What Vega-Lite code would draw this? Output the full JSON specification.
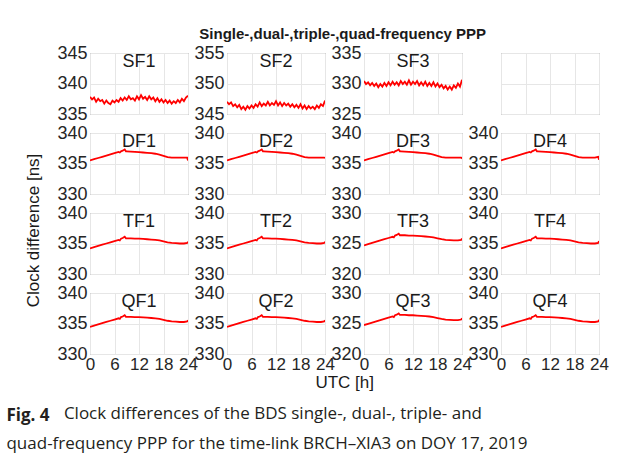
{
"$schema": "https://vega.github.io/schema/vega-lite/v6.json",
"background": "white",
"padding": {"left": 6, "top": 26, "right": 5, "bottom": 5},
"datasets": {"clk": [
{"p":"SF1","t":0,"v":337.8},{"p":"SF1","t":0.5,"v":337.4},{"p":"SF1","t":1,"v":337.7},{"p":"SF1","t":1.5,"v":337.0},{"p":"SF1","t":2,"v":337.5},{"p":"SF1","t":2.5,"v":337.1},{"p":"SF1","t":3,"v":337.3},{"p":"SF1","t":3.5,"v":336.7},{"p":"SF1","t":4,"v":337.2},{"p":"SF1","t":4.5,"v":336.8},{"p":"SF1","t":5,"v":336.6},{"p":"SF1","t":5.5,"v":337.2},{"p":"SF1","t":6,"v":336.9},{"p":"SF1","t":6.5,"v":337.3},{"p":"SF1","t":7,"v":337.0},{"p":"SF1","t":7.5,"v":337.6},{"p":"SF1","t":8,"v":337.2},{"p":"SF1","t":8.5,"v":337.7},{"p":"SF1","t":9,"v":337.3},{"p":"SF1","t":9.5,"v":337.9},{"p":"SF1","t":10,"v":337.4},{"p":"SF1","t":10.5,"v":337.6},{"p":"SF1","t":11,"v":337.2},{"p":"SF1","t":11.5,"v":337.9},{"p":"SF1","t":12,"v":337.4},{"p":"SF1","t":12.5,"v":338.1},{"p":"SF1","t":13,"v":337.5},{"p":"SF1","t":13.5,"v":337.8},{"p":"SF1","t":14,"v":337.3},{"p":"SF1","t":14.5,"v":337.9},{"p":"SF1","t":15,"v":337.4},{"p":"SF1","t":15.5,"v":337.7},{"p":"SF1","t":16,"v":337.1},{"p":"SF1","t":16.5,"v":337.6},{"p":"SF1","t":17,"v":337.0},{"p":"SF1","t":17.5,"v":337.4},{"p":"SF1","t":18,"v":336.9},{"p":"SF1","t":18.5,"v":337.3},{"p":"SF1","t":19,"v":336.8},{"p":"SF1","t":19.5,"v":337.2},{"p":"SF1","t":20,"v":336.7},{"p":"SF1","t":20.5,"v":337.1},{"p":"SF1","t":21,"v":336.8},{"p":"SF1","t":21.5,"v":337.3},{"p":"SF1","t":22,"v":336.9},{"p":"SF1","t":22.5,"v":337.5},{"p":"SF1","t":23,"v":337.1},{"p":"SF1","t":23.5,"v":337.7},{"p":"SF1","t":24,"v":338.0},
{"p":"SF2","t":0,"v":347.0},{"p":"SF2","t":0.5,"v":346.6},{"p":"SF2","t":1,"v":346.9},{"p":"SF2","t":1.5,"v":346.3},{"p":"SF2","t":2,"v":346.6},{"p":"SF2","t":2.5,"v":346.1},{"p":"SF2","t":3,"v":346.5},{"p":"SF2","t":3.5,"v":345.8},{"p":"SF2","t":4,"v":346.2},{"p":"SF2","t":4.5,"v":345.7},{"p":"SF2","t":5,"v":346.3},{"p":"SF2","t":5.5,"v":345.9},{"p":"SF2","t":6,"v":346.4},{"p":"SF2","t":6.5,"v":346.0},{"p":"SF2","t":7,"v":346.6},{"p":"SF2","t":7.5,"v":346.2},{"p":"SF2","t":8,"v":346.9},{"p":"SF2","t":8.5,"v":346.3},{"p":"SF2","t":9,"v":346.7},{"p":"SF2","t":9.5,"v":346.4},{"p":"SF2","t":10,"v":347.0},{"p":"SF2","t":10.5,"v":346.4},{"p":"SF2","t":11,"v":346.8},{"p":"SF2","t":11.5,"v":346.5},{"p":"SF2","t":12,"v":347.1},{"p":"SF2","t":12.5,"v":346.4},{"p":"SF2","t":13,"v":346.9},{"p":"SF2","t":13.5,"v":346.3},{"p":"SF2","t":14,"v":346.8},{"p":"SF2","t":14.5,"v":346.4},{"p":"SF2","t":15,"v":346.7},{"p":"SF2","t":15.5,"v":346.2},{"p":"SF2","t":16,"v":346.6},{"p":"SF2","t":16.5,"v":346.1},{"p":"SF2","t":17,"v":346.5},{"p":"SF2","t":17.5,"v":346.0},{"p":"SF2","t":18,"v":346.6},{"p":"SF2","t":18.5,"v":345.9},{"p":"SF2","t":19,"v":346.4},{"p":"SF2","t":19.5,"v":345.8},{"p":"SF2","t":20,"v":346.3},{"p":"SF2","t":20.5,"v":345.9},{"p":"SF2","t":21,"v":346.2},{"p":"SF2","t":21.5,"v":345.8},{"p":"SF2","t":22,"v":346.4},{"p":"SF2","t":22.5,"v":346.0},{"p":"SF2","t":23,"v":346.6},{"p":"SF2","t":23.5,"v":346.3},{"p":"SF2","t":24,"v":347.2},
{"p":"SF3","t":0,"v":330.4},{"p":"SF3","t":0.5,"v":329.9},{"p":"SF3","t":1,"v":330.2},{"p":"SF3","t":1.5,"v":329.7},{"p":"SF3","t":2,"v":330.1},{"p":"SF3","t":2.5,"v":329.6},{"p":"SF3","t":3,"v":330.0},{"p":"SF3","t":3.5,"v":329.4},{"p":"SF3","t":4,"v":329.9},{"p":"SF3","t":4.5,"v":329.5},{"p":"SF3","t":5,"v":330.1},{"p":"SF3","t":5.5,"v":329.6},{"p":"SF3","t":6,"v":330.2},{"p":"SF3","t":6.5,"v":329.7},{"p":"SF3","t":7,"v":330.3},{"p":"SF3","t":7.5,"v":329.8},{"p":"SF3","t":8,"v":330.2},{"p":"SF3","t":8.5,"v":329.7},{"p":"SF3","t":9,"v":330.4},{"p":"SF3","t":9.5,"v":329.9},{"p":"SF3","t":10,"v":330.3},{"p":"SF3","t":10.5,"v":329.8},{"p":"SF3","t":11,"v":330.5},{"p":"SF3","t":11.5,"v":329.8},{"p":"SF3","t":12,"v":330.3},{"p":"SF3","t":12.5,"v":329.9},{"p":"SF3","t":13,"v":330.4},{"p":"SF3","t":13.5,"v":329.7},{"p":"SF3","t":14,"v":330.2},{"p":"SF3","t":14.5,"v":329.7},{"p":"SF3","t":15,"v":330.3},{"p":"SF3","t":15.5,"v":329.6},{"p":"SF3","t":16,"v":330.1},{"p":"SF3","t":16.5,"v":329.6},{"p":"SF3","t":17,"v":330.2},{"p":"SF3","t":17.5,"v":329.5},{"p":"SF3","t":18,"v":330.0},{"p":"SF3","t":18.5,"v":329.4},{"p":"SF3","t":19,"v":329.8},{"p":"SF3","t":19.5,"v":329.2},{"p":"SF3","t":20,"v":329.6},{"p":"SF3","t":20.5,"v":329.0},{"p":"SF3","t":21,"v":329.5},{"p":"SF3","t":21.5,"v":329.0},{"p":"SF3","t":22,"v":329.7},{"p":"SF3","t":22.5,"v":329.3},{"p":"SF3","t":23,"v":330.0},{"p":"SF3","t":23.5,"v":329.5},{"p":"SF3","t":24,"v":330.6},
{"p":"DF1","t":0,"v":335.5},{"p":"DF1","t":1,"v":335.7},{"p":"DF1","t":2,"v":335.9},{"p":"DF1","t":3,"v":336.1},{"p":"DF1","t":4,"v":336.3},{"p":"DF1","t":5,"v":336.5},{"p":"DF1","t":6,"v":336.7},{"p":"DF1","t":7,"v":336.9},{"p":"DF1","t":7.3,"v":336.8},{"p":"DF1","t":7.6,"v":337.0},{"p":"DF1","t":8,"v":337.1},{"p":"DF1","t":8.5,"v":337.3},{"p":"DF1","t":8.8,"v":337.0},{"p":"DF1","t":9,"v":337.0},{"p":"DF1","t":10,"v":336.95},{"p":"DF1","t":11,"v":336.9},{"p":"DF1","t":12,"v":336.85},{"p":"DF1","t":13,"v":336.8},{"p":"DF1","t":14,"v":336.75},{"p":"DF1","t":15,"v":336.7},{"p":"DF1","t":16,"v":336.6},{"p":"DF1","t":17,"v":336.45},{"p":"DF1","t":18,"v":336.25},{"p":"DF1","t":19,"v":336.05},{"p":"DF1","t":20,"v":335.95},{"p":"DF1","t":21,"v":335.95},{"p":"DF1","t":22,"v":335.95},{"p":"DF1","t":23,"v":335.95},{"p":"DF1","t":23.8,"v":335.95},{"p":"DF1","t":24,"v":335.5},
{"p":"DF2","t":0,"v":335.5},{"p":"DF2","t":1,"v":335.7},{"p":"DF2","t":2,"v":335.9},{"p":"DF2","t":3,"v":336.1},{"p":"DF2","t":4,"v":336.3},{"p":"DF2","t":5,"v":336.5},{"p":"DF2","t":6,"v":336.7},{"p":"DF2","t":7,"v":336.9},{"p":"DF2","t":7.3,"v":336.8},{"p":"DF2","t":7.6,"v":337.0},{"p":"DF2","t":8,"v":337.1},{"p":"DF2","t":8.5,"v":337.3},{"p":"DF2","t":8.8,"v":337.0},{"p":"DF2","t":9,"v":337.0},{"p":"DF2","t":10,"v":336.95},{"p":"DF2","t":11,"v":336.9},{"p":"DF2","t":12,"v":336.85},{"p":"DF2","t":13,"v":336.8},{"p":"DF2","t":14,"v":336.75},{"p":"DF2","t":15,"v":336.7},{"p":"DF2","t":16,"v":336.6},{"p":"DF2","t":17,"v":336.45},{"p":"DF2","t":18,"v":336.25},{"p":"DF2","t":19,"v":336.05},{"p":"DF2","t":20,"v":335.95},{"p":"DF2","t":21,"v":335.95},{"p":"DF2","t":22,"v":335.95},{"p":"DF2","t":23,"v":335.95},{"p":"DF2","t":23.8,"v":335.95},{"p":"DF2","t":24,"v":335.9},
{"p":"DF3","t":0,"v":335.5},{"p":"DF3","t":1,"v":335.7},{"p":"DF3","t":2,"v":335.9},{"p":"DF3","t":3,"v":336.1},{"p":"DF3","t":4,"v":336.3},{"p":"DF3","t":5,"v":336.5},{"p":"DF3","t":6,"v":336.7},{"p":"DF3","t":7,"v":336.9},{"p":"DF3","t":7.3,"v":336.8},{"p":"DF3","t":7.6,"v":337.0},{"p":"DF3","t":8,"v":337.1},{"p":"DF3","t":8.5,"v":337.3},{"p":"DF3","t":8.8,"v":337.0},{"p":"DF3","t":9,"v":337.0},{"p":"DF3","t":10,"v":336.95},{"p":"DF3","t":11,"v":336.9},{"p":"DF3","t":12,"v":336.85},{"p":"DF3","t":13,"v":336.8},{"p":"DF3","t":14,"v":336.75},{"p":"DF3","t":15,"v":336.7},{"p":"DF3","t":16,"v":336.6},{"p":"DF3","t":17,"v":336.45},{"p":"DF3","t":18,"v":336.25},{"p":"DF3","t":19,"v":336.05},{"p":"DF3","t":20,"v":335.95},{"p":"DF3","t":21,"v":335.95},{"p":"DF3","t":22,"v":335.95},{"p":"DF3","t":23,"v":335.95},{"p":"DF3","t":23.8,"v":335.95},{"p":"DF3","t":24,"v":335.8},
{"p":"DF4","t":0,"v":335.5},{"p":"DF4","t":1,"v":335.7},{"p":"DF4","t":2,"v":335.9},{"p":"DF4","t":3,"v":336.1},{"p":"DF4","t":4,"v":336.3},{"p":"DF4","t":5,"v":336.5},{"p":"DF4","t":6,"v":336.7},{"p":"DF4","t":7,"v":336.9},{"p":"DF4","t":7.3,"v":336.8},{"p":"DF4","t":7.6,"v":337.0},{"p":"DF4","t":8,"v":337.1},{"p":"DF4","t":8.5,"v":337.3},{"p":"DF4","t":8.8,"v":337.0},{"p":"DF4","t":9,"v":337.0},{"p":"DF4","t":10,"v":336.95},{"p":"DF4","t":11,"v":336.9},{"p":"DF4","t":12,"v":336.85},{"p":"DF4","t":13,"v":336.8},{"p":"DF4","t":14,"v":336.75},{"p":"DF4","t":15,"v":336.7},{"p":"DF4","t":16,"v":336.6},{"p":"DF4","t":17,"v":336.45},{"p":"DF4","t":18,"v":336.25},{"p":"DF4","t":19,"v":336.05},{"p":"DF4","t":20,"v":335.95},{"p":"DF4","t":21,"v":335.95},{"p":"DF4","t":22,"v":335.95},{"p":"DF4","t":23,"v":335.95},{"p":"DF4","t":23.8,"v":336.1},{"p":"DF4","t":24,"v":335.6},
{"p":"TF1","t":0,"v":334.2},{"p":"TF1","t":1,"v":334.4},{"p":"TF1","t":2,"v":334.6},{"p":"TF1","t":3,"v":334.8},{"p":"TF1","t":4,"v":335.0},{"p":"TF1","t":5,"v":335.2},{"p":"TF1","t":6,"v":335.4},{"p":"TF1","t":7,"v":335.6},{"p":"TF1","t":7.3,"v":335.5},{"p":"TF1","t":7.6,"v":335.8},{"p":"TF1","t":8,"v":335.9},{"p":"TF1","t":8.5,"v":336.1},{"p":"TF1","t":8.8,"v":335.85},{"p":"TF1","t":9,"v":335.85},{"p":"TF1","t":10,"v":335.85},{"p":"TF1","t":11,"v":335.8},{"p":"TF1","t":12,"v":335.8},{"p":"TF1","t":13,"v":335.75},{"p":"TF1","t":14,"v":335.7},{"p":"TF1","t":15,"v":335.65},{"p":"TF1","t":16,"v":335.6},{"p":"TF1","t":17,"v":335.5},{"p":"TF1","t":18,"v":335.35},{"p":"TF1","t":19,"v":335.2},{"p":"TF1","t":20,"v":335.1},{"p":"TF1","t":21,"v":335.05},{"p":"TF1","t":22,"v":335.0},{"p":"TF1","t":23,"v":335.0},{"p":"TF1","t":23.8,"v":335.1},{"p":"TF1","t":24,"v":335.3},
{"p":"TF2","t":0,"v":334.2},{"p":"TF2","t":1,"v":334.4},{"p":"TF2","t":2,"v":334.6},{"p":"TF2","t":3,"v":334.8},{"p":"TF2","t":4,"v":335.0},{"p":"TF2","t":5,"v":335.2},{"p":"TF2","t":6,"v":335.4},{"p":"TF2","t":7,"v":335.6},{"p":"TF2","t":7.3,"v":335.5},{"p":"TF2","t":7.6,"v":335.8},{"p":"TF2","t":8,"v":335.9},{"p":"TF2","t":8.5,"v":336.1},{"p":"TF2","t":8.8,"v":335.85},{"p":"TF2","t":9,"v":335.85},{"p":"TF2","t":10,"v":335.85},{"p":"TF2","t":11,"v":335.8},{"p":"TF2","t":12,"v":335.8},{"p":"TF2","t":13,"v":335.75},{"p":"TF2","t":14,"v":335.7},{"p":"TF2","t":15,"v":335.65},{"p":"TF2","t":16,"v":335.6},{"p":"TF2","t":17,"v":335.5},{"p":"TF2","t":18,"v":335.35},{"p":"TF2","t":19,"v":335.2},{"p":"TF2","t":20,"v":335.1},{"p":"TF2","t":21,"v":335.05},{"p":"TF2","t":22,"v":335.0},{"p":"TF2","t":23,"v":335.0},{"p":"TF2","t":23.8,"v":335.1},{"p":"TF2","t":24,"v":335.3},
{"p":"TF3","t":0,"v":324.7},{"p":"TF3","t":1,"v":324.9},{"p":"TF3","t":2,"v":325.1},{"p":"TF3","t":3,"v":325.3},{"p":"TF3","t":4,"v":325.5},{"p":"TF3","t":5,"v":325.7},{"p":"TF3","t":6,"v":325.9},{"p":"TF3","t":7,"v":326.1},{"p":"TF3","t":7.3,"v":326.0},{"p":"TF3","t":7.6,"v":326.3},{"p":"TF3","t":8,"v":326.4},{"p":"TF3","t":8.5,"v":326.6},{"p":"TF3","t":8.8,"v":326.35},{"p":"TF3","t":9,"v":326.35},{"p":"TF3","t":10,"v":326.35},{"p":"TF3","t":11,"v":326.3},{"p":"TF3","t":12,"v":326.3},{"p":"TF3","t":13,"v":326.25},{"p":"TF3","t":14,"v":326.2},{"p":"TF3","t":15,"v":326.15},{"p":"TF3","t":16,"v":326.1},{"p":"TF3","t":17,"v":326.0},{"p":"TF3","t":18,"v":325.85},{"p":"TF3","t":19,"v":325.7},{"p":"TF3","t":20,"v":325.6},{"p":"TF3","t":21,"v":325.55},{"p":"TF3","t":22,"v":325.5},{"p":"TF3","t":23,"v":325.5},{"p":"TF3","t":23.8,"v":325.6},{"p":"TF3","t":24,"v":325.8},
{"p":"TF4","t":0,"v":334.2},{"p":"TF4","t":1,"v":334.4},{"p":"TF4","t":2,"v":334.6},{"p":"TF4","t":3,"v":334.8},{"p":"TF4","t":4,"v":335.0},{"p":"TF4","t":5,"v":335.2},{"p":"TF4","t":6,"v":335.4},{"p":"TF4","t":7,"v":335.6},{"p":"TF4","t":7.3,"v":335.5},{"p":"TF4","t":7.6,"v":335.8},{"p":"TF4","t":8,"v":335.9},{"p":"TF4","t":8.5,"v":336.1},{"p":"TF4","t":8.8,"v":335.85},{"p":"TF4","t":9,"v":335.85},{"p":"TF4","t":10,"v":335.85},{"p":"TF4","t":11,"v":335.8},{"p":"TF4","t":12,"v":335.8},{"p":"TF4","t":13,"v":335.75},{"p":"TF4","t":14,"v":335.7},{"p":"TF4","t":15,"v":335.65},{"p":"TF4","t":16,"v":335.6},{"p":"TF4","t":17,"v":335.5},{"p":"TF4","t":18,"v":335.35},{"p":"TF4","t":19,"v":335.2},{"p":"TF4","t":20,"v":335.1},{"p":"TF4","t":21,"v":335.05},{"p":"TF4","t":22,"v":335.0},{"p":"TF4","t":23,"v":335.0},{"p":"TF4","t":23.8,"v":335.1},{"p":"TF4","t":24,"v":335.4},
{"p":"QF1","t":0,"v":334.45},{"p":"QF1","t":1,"v":334.65},{"p":"QF1","t":2,"v":334.85},{"p":"QF1","t":3,"v":335.05},{"p":"QF1","t":4,"v":335.25},{"p":"QF1","t":5,"v":335.45},{"p":"QF1","t":6,"v":335.65},{"p":"QF1","t":7,"v":335.85},{"p":"QF1","t":7.3,"v":335.75},{"p":"QF1","t":7.6,"v":336.05},{"p":"QF1","t":8,"v":336.15},{"p":"QF1","t":8.5,"v":336.35},{"p":"QF1","t":8.8,"v":336.1},{"p":"QF1","t":9,"v":336.1},{"p":"QF1","t":10,"v":336.1},{"p":"QF1","t":11,"v":336.05},{"p":"QF1","t":12,"v":336.05},{"p":"QF1","t":13,"v":336.0},{"p":"QF1","t":14,"v":335.95},{"p":"QF1","t":15,"v":335.9},{"p":"QF1","t":16,"v":335.85},{"p":"QF1","t":17,"v":335.75},{"p":"QF1","t":18,"v":335.6},{"p":"QF1","t":19,"v":335.45},{"p":"QF1","t":20,"v":335.35},{"p":"QF1","t":21,"v":335.3},{"p":"QF1","t":22,"v":335.25},{"p":"QF1","t":23,"v":335.25},{"p":"QF1","t":23.8,"v":335.35},{"p":"QF1","t":24,"v":335.55},
{"p":"QF2","t":0,"v":334.45},{"p":"QF2","t":1,"v":334.65},{"p":"QF2","t":2,"v":334.85},{"p":"QF2","t":3,"v":335.05},{"p":"QF2","t":4,"v":335.25},{"p":"QF2","t":5,"v":335.45},{"p":"QF2","t":6,"v":335.65},{"p":"QF2","t":7,"v":335.85},{"p":"QF2","t":7.3,"v":335.75},{"p":"QF2","t":7.6,"v":336.05},{"p":"QF2","t":8,"v":336.15},{"p":"QF2","t":8.5,"v":336.35},{"p":"QF2","t":8.8,"v":336.1},{"p":"QF2","t":9,"v":336.1},{"p":"QF2","t":10,"v":336.1},{"p":"QF2","t":11,"v":336.05},{"p":"QF2","t":12,"v":336.05},{"p":"QF2","t":13,"v":336.0},{"p":"QF2","t":14,"v":335.95},{"p":"QF2","t":15,"v":335.9},{"p":"QF2","t":16,"v":335.85},{"p":"QF2","t":17,"v":335.75},{"p":"QF2","t":18,"v":335.6},{"p":"QF2","t":19,"v":335.45},{"p":"QF2","t":20,"v":335.35},{"p":"QF2","t":21,"v":335.3},{"p":"QF2","t":22,"v":335.25},{"p":"QF2","t":23,"v":335.25},{"p":"QF2","t":23.8,"v":335.35},{"p":"QF2","t":24,"v":335.55},
{"p":"QF3","t":0,"v":324.75},{"p":"QF3","t":1,"v":324.95},{"p":"QF3","t":2,"v":325.15},{"p":"QF3","t":3,"v":325.35},{"p":"QF3","t":4,"v":325.55},{"p":"QF3","t":5,"v":325.75},{"p":"QF3","t":6,"v":325.95},{"p":"QF3","t":7,"v":326.15},{"p":"QF3","t":7.3,"v":326.05},{"p":"QF3","t":7.6,"v":326.35},{"p":"QF3","t":8,"v":326.45},{"p":"QF3","t":8.5,"v":326.65},{"p":"QF3","t":8.8,"v":326.4},{"p":"QF3","t":9,"v":326.4},{"p":"QF3","t":10,"v":326.4},{"p":"QF3","t":11,"v":326.35},{"p":"QF3","t":12,"v":326.35},{"p":"QF3","t":13,"v":326.3},{"p":"QF3","t":14,"v":326.25},{"p":"QF3","t":15,"v":326.2},{"p":"QF3","t":16,"v":326.15},{"p":"QF3","t":17,"v":326.05},{"p":"QF3","t":18,"v":325.9},{"p":"QF3","t":19,"v":325.75},{"p":"QF3","t":20,"v":325.65},{"p":"QF3","t":21,"v":325.6},{"p":"QF3","t":22,"v":325.55},{"p":"QF3","t":23,"v":325.55},{"p":"QF3","t":23.8,"v":325.65},{"p":"QF3","t":24,"v":325.85},
{"p":"QF4","t":0,"v":334.45},{"p":"QF4","t":1,"v":334.65},{"p":"QF4","t":2,"v":334.85},{"p":"QF4","t":3,"v":335.05},{"p":"QF4","t":4,"v":335.25},{"p":"QF4","t":5,"v":335.45},{"p":"QF4","t":6,"v":335.65},{"p":"QF4","t":7,"v":335.85},{"p":"QF4","t":7.3,"v":335.75},{"p":"QF4","t":7.6,"v":336.05},{"p":"QF4","t":8,"v":336.15},{"p":"QF4","t":8.5,"v":336.35},{"p":"QF4","t":8.8,"v":336.1},{"p":"QF4","t":9,"v":336.1},{"p":"QF4","t":10,"v":336.1},{"p":"QF4","t":11,"v":336.05},{"p":"QF4","t":12,"v":336.05},{"p":"QF4","t":13,"v":336.0},{"p":"QF4","t":14,"v":335.95},{"p":"QF4","t":15,"v":335.9},{"p":"QF4","t":16,"v":335.85},{"p":"QF4","t":17,"v":335.75},{"p":"QF4","t":18,"v":335.6},{"p":"QF4","t":19,"v":335.45},{"p":"QF4","t":20,"v":335.35},{"p":"QF4","t":21,"v":335.3},{"p":"QF4","t":22,"v":335.25},{"p":"QF4","t":23,"v":335.25},{"p":"QF4","t":23.8,"v":335.35},{"p":"QF4","t":24,"v":335.6}
]},
"title": {"text": "Fig. 4", "subtitle": ["\u200b\u00a0\u00a0\u00a0\u00a0\u00a0\u00a0\u00a0\u00a0\u00a0\u00a0\u00a0\u00a0\u00a0Clock differences of the BDS single-, dual-, triple- and", "quad-frequency PPP for the time-link BRCH\u2013XIA3 on DOY 17, 2019"], "orient": "bottom", "anchor": "start", "frame": "bounds", "font": "Open Sans", "fontSize": 17, "fontWeight": "bold", "color": "#231f20", "subtitleFont": "Open Sans", "subtitleFontSize": 17, "subtitleColor": "#231f20", "subtitleFontWeight": "normal", "subtitlePadding": -19, "subtitleLineHeight": 30, "offset": 17, "dx": -19, "baseline": "top"},
"vconcat": [{
  "title": {"text": "Clock difference [ns]", "orient": "left", "anchor": "middle", "frame": "bounds", "fontSize": 17, "fontWeight": "normal", "color": "#1a1a1a", "offset": 13, "dx": -22},
  "vconcat": [{
    "title": {"text": "UTC [h]", "orient": "bottom", "anchor": "middle", "frame": "bounds", "fontSize": 17, "fontWeight": "normal", "color": "#1a1a1a", "offset": 2, "dx": 12},
    "vconcat": [{
      "title": {"text": "Single-,dual-,triple-,quad-frequency PPP", "orient": "top", "anchor": "middle", "frame": "bounds", "fontSize": 15, "fontWeight": "bold", "color": "#1a1a1a", "offset": 2, "dx": 10},
      "bounds": "flush",
      "columns": 4,
      "spacing": {"row": 19, "column": 39},
      "concat": [
          {"width": 98, "height": 61, "title": "SF1", "data": {"name": "clk"}, "transform": [{"filter": "datum.p === 'SF1'"}], "mark": {"type": "line", "color": "#ff0000", "strokeWidth": 1.8, "clip": true}, "encoding": {"x": {"field": "t", "type": "quantitative", "scale": {"domain": [0, 24]}, "axis": {"values": [0, 6, 12, 18, 24], "labels": false, "title": null}}, "y": {"field": "v", "type": "quantitative", "scale": {"domain": [335, 345]}, "axis": {"values": [335, 340, 345], "title": null}}}},
          {"width": 98, "height": 61, "title": "SF2", "data": {"name": "clk"}, "transform": [{"filter": "datum.p === 'SF2'"}], "mark": {"type": "line", "color": "#ff0000", "strokeWidth": 1.8, "clip": true}, "encoding": {"x": {"field": "t", "type": "quantitative", "scale": {"domain": [0, 24]}, "axis": {"values": [0, 6, 12, 18, 24], "labels": false, "title": null}}, "y": {"field": "v", "type": "quantitative", "scale": {"domain": [345, 355]}, "axis": {"values": [345, 350, 355], "title": null}}}},
          {"width": 98, "height": 61, "title": "SF3", "data": {"name": "clk"}, "transform": [{"filter": "datum.p === 'SF3'"}], "mark": {"type": "line", "color": "#ff0000", "strokeWidth": 1.8, "clip": true}, "encoding": {"x": {"field": "t", "type": "quantitative", "scale": {"domain": [0, 24]}, "axis": {"values": [0, 6, 12, 18, 24], "labels": false, "title": null}}, "y": {"field": "v", "type": "quantitative", "scale": {"domain": [325, 335]}, "axis": {"values": [325, 330, 335], "title": null}}}},
          {"width": 98, "height": 61, "data": {"name": "clk"}, "transform": [{"filter": "datum.p === 'none'"}], "mark": {"type": "line", "color": "#ff0000"}, "encoding": {"x": {"field": "t", "type": "quantitative", "scale": {"domain": [0, 24]}, "axis": {"values": [0, 6, 12, 18, 24], "labels": false, "title": null}}, "y": {"field": "v", "type": "quantitative", "scale": {"domain": [0, 1]}, "axis": {"values": [0, 0.5, 1], "labels": false, "title": null}}}},
          {"width": 98, "height": 61, "title": "DF1", "data": {"name": "clk"}, "transform": [{"filter": "datum.p === 'DF1'"}], "mark": {"type": "line", "color": "#ff0000", "strokeWidth": 1.8, "clip": true}, "encoding": {"x": {"field": "t", "type": "quantitative", "scale": {"domain": [0, 24]}, "axis": {"values": [0, 6, 12, 18, 24], "labels": false, "title": null}}, "y": {"field": "v", "type": "quantitative", "scale": {"domain": [330, 340]}, "axis": {"values": [330, 335, 340], "title": null}}}},
          {"width": 98, "height": 61, "title": "DF2", "data": {"name": "clk"}, "transform": [{"filter": "datum.p === 'DF2'"}], "mark": {"type": "line", "color": "#ff0000", "strokeWidth": 1.8, "clip": true}, "encoding": {"x": {"field": "t", "type": "quantitative", "scale": {"domain": [0, 24]}, "axis": {"values": [0, 6, 12, 18, 24], "labels": false, "title": null}}, "y": {"field": "v", "type": "quantitative", "scale": {"domain": [330, 340]}, "axis": {"values": [330, 335, 340], "title": null}}}},
          {"width": 98, "height": 61, "title": "DF3", "data": {"name": "clk"}, "transform": [{"filter": "datum.p === 'DF3'"}], "mark": {"type": "line", "color": "#ff0000", "strokeWidth": 1.8, "clip": true}, "encoding": {"x": {"field": "t", "type": "quantitative", "scale": {"domain": [0, 24]}, "axis": {"values": [0, 6, 12, 18, 24], "labels": false, "title": null}}, "y": {"field": "v", "type": "quantitative", "scale": {"domain": [330, 340]}, "axis": {"values": [330, 335, 340], "title": null}}}},
          {"width": 98, "height": 61, "title": "DF4", "data": {"name": "clk"}, "transform": [{"filter": "datum.p === 'DF4'"}], "mark": {"type": "line", "color": "#ff0000", "strokeWidth": 1.8, "clip": true}, "encoding": {"x": {"field": "t", "type": "quantitative", "scale": {"domain": [0, 24]}, "axis": {"values": [0, 6, 12, 18, 24], "labels": false, "title": null}}, "y": {"field": "v", "type": "quantitative", "scale": {"domain": [330, 340]}, "axis": {"values": [330, 335, 340], "title": null}}}},
          {"width": 98, "height": 61, "title": "TF1", "data": {"name": "clk"}, "transform": [{"filter": "datum.p === 'TF1'"}], "mark": {"type": "line", "color": "#ff0000", "strokeWidth": 1.8, "clip": true}, "encoding": {"x": {"field": "t", "type": "quantitative", "scale": {"domain": [0, 24]}, "axis": {"values": [0, 6, 12, 18, 24], "labels": false, "title": null}}, "y": {"field": "v", "type": "quantitative", "scale": {"domain": [330, 340]}, "axis": {"values": [330, 335, 340], "title": null}}}},
          {"width": 98, "height": 61, "title": "TF2", "data": {"name": "clk"}, "transform": [{"filter": "datum.p === 'TF2'"}], "mark": {"type": "line", "color": "#ff0000", "strokeWidth": 1.8, "clip": true}, "encoding": {"x": {"field": "t", "type": "quantitative", "scale": {"domain": [0, 24]}, "axis": {"values": [0, 6, 12, 18, 24], "labels": false, "title": null}}, "y": {"field": "v", "type": "quantitative", "scale": {"domain": [330, 340]}, "axis": {"values": [330, 335, 340], "title": null}}}},
          {"width": 98, "height": 61, "title": "TF3", "data": {"name": "clk"}, "transform": [{"filter": "datum.p === 'TF3'"}], "mark": {"type": "line", "color": "#ff0000", "strokeWidth": 1.8, "clip": true}, "encoding": {"x": {"field": "t", "type": "quantitative", "scale": {"domain": [0, 24]}, "axis": {"values": [0, 6, 12, 18, 24], "labels": false, "title": null}}, "y": {"field": "v", "type": "quantitative", "scale": {"domain": [320, 330]}, "axis": {"values": [320, 325, 330], "title": null}}}},
          {"width": 98, "height": 61, "title": "TF4", "data": {"name": "clk"}, "transform": [{"filter": "datum.p === 'TF4'"}], "mark": {"type": "line", "color": "#ff0000", "strokeWidth": 1.8, "clip": true}, "encoding": {"x": {"field": "t", "type": "quantitative", "scale": {"domain": [0, 24]}, "axis": {"values": [0, 6, 12, 18, 24], "labels": false, "title": null}}, "y": {"field": "v", "type": "quantitative", "scale": {"domain": [330, 340]}, "axis": {"values": [330, 335, 340], "title": null}}}},
          {"width": 98, "height": 61, "title": "QF1", "data": {"name": "clk"}, "transform": [{"filter": "datum.p === 'QF1'"}], "mark": {"type": "line", "color": "#ff0000", "strokeWidth": 1.8, "clip": true}, "encoding": {"x": {"field": "t", "type": "quantitative", "scale": {"domain": [0, 24]}, "axis": {"values": [0, 6, 12, 18, 24], "title": null}}, "y": {"field": "v", "type": "quantitative", "scale": {"domain": [330, 340]}, "axis": {"values": [330, 335, 340], "title": null}}}},
          {"width": 98, "height": 61, "title": "QF2", "data": {"name": "clk"}, "transform": [{"filter": "datum.p === 'QF2'"}], "mark": {"type": "line", "color": "#ff0000", "strokeWidth": 1.8, "clip": true}, "encoding": {"x": {"field": "t", "type": "quantitative", "scale": {"domain": [0, 24]}, "axis": {"values": [0, 6, 12, 18, 24], "title": null}}, "y": {"field": "v", "type": "quantitative", "scale": {"domain": [330, 340]}, "axis": {"values": [330, 335, 340], "title": null}}}},
          {"width": 98, "height": 61, "title": "QF3", "data": {"name": "clk"}, "transform": [{"filter": "datum.p === 'QF3'"}], "mark": {"type": "line", "color": "#ff0000", "strokeWidth": 1.8, "clip": true}, "encoding": {"x": {"field": "t", "type": "quantitative", "scale": {"domain": [0, 24]}, "axis": {"values": [0, 6, 12, 18, 24], "title": null}}, "y": {"field": "v", "type": "quantitative", "scale": {"domain": [320, 330]}, "axis": {"values": [320, 325, 330], "title": null}}}},
          {"width": 98, "height": 61, "title": "QF4", "data": {"name": "clk"}, "transform": [{"filter": "datum.p === 'QF4'"}], "mark": {"type": "line", "color": "#ff0000", "strokeWidth": 1.8, "clip": true}, "encoding": {"x": {"field": "t", "type": "quantitative", "scale": {"domain": [0, 24]}, "axis": {"values": [0, 6, 12, 18, 24], "title": null}}, "y": {"field": "v", "type": "quantitative", "scale": {"domain": [330, 340]}, "axis": {"values": [330, 335, 340], "title": null}}}}
      ]
    }]
  }]
}],
"config": {
  "font": "Liberation Sans",
  "view": {"stroke": "#777777", "strokeWidth": 1},
  "axis": {"grid": true, "gridColor": "#e6e6e6", "gridWidth": 1, "domain": false, "ticks": false, "labelFont": "Liberation Sans", "labelFontSize": 18, "labelColor": "#262626", "labelPadding": 3, "labelFlush": false, "labelOverlap": false},
  "axisX": {"labelFontSize": 17, "labelPadding": 2},
  "title": {"font": "Liberation Sans", "fontSize": 18, "fontWeight": "normal", "color": "#1a1a1a", "frame": "group", "anchor": "middle", "offset": -27}
}
}
